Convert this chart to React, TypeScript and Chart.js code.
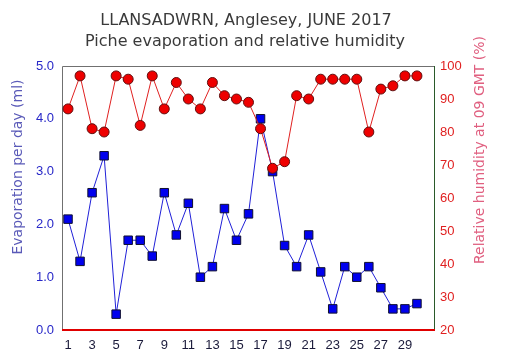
import React, { useEffect, useRef } from "react";
import { Chart, registerables } from "chart.js";

Chart.register(...registerables);

const days = [1,2,3,4,5,6,7,8,9,10,11,12,13,14,15,16,17,18,19,20,21,22,23,24,25,26,27,28,29,30];
const evaporation = [2.1,1.3,2.6,3.3,0.3,1.7,1.7,1.4,2.6,1.8,2.4,1.0,1.2,2.3,1.7,2.2,4.0,3.0,1.6,1.2,1.8,1.1,0.4,1.2,1.0,1.2,0.8,0.4,0.4,0.5];
const humidity = [87,97,81,80,97,96,82,97,87,95,90,87,95,91,90,89,81,69,71,91,90,96,96,96,96,80,93,94,97,97];
const xTicks = [1,3,5,7,9,11,13,15,17,19,21,23,25,27,29];
const titleLines = ["LLANSADWRN, Anglesey, JUNE 2017", "Piche evaporation and relative humidity"];
const leftTitle = "Evaporation per day (ml)";
const rightTitle = "Relative humidity at 09 GMT (%)";

export default function App() {
  const ref = useRef<HTMLCanvasElement | null>(null);
  useEffect(() => {
    const canvas = ref.current;
    if (!canvas) return;
    const decor = {
      id: "decor",
      beforeDatasetsDraw(chart: any) {
        const { ctx, chartArea: a } = chart;
        ctx.save();
        ctx.lineWidth = 1;
        ctx.strokeStyle = "#707070";
        ctx.beginPath();
        ctx.moveTo(a.left + 0.5, a.bottom);
        ctx.lineTo(a.left + 0.5, a.top + 0.5);
        ctx.lineTo(a.right, a.top + 0.5);
        ctx.stroke();
        ctx.strokeStyle = "#2a5a2a";
        ctx.beginPath();
        ctx.moveTo(a.right - 0.5, a.top);
        ctx.lineTo(a.right - 0.5, a.bottom);
        ctx.stroke();
        ctx.strokeStyle = "#e00000";
        ctx.lineWidth = 2;
        ctx.beginPath();
        ctx.moveTo(a.left, a.bottom);
        ctx.lineTo(a.right, a.bottom);
        ctx.stroke();
        ctx.restore();
      },
      afterDraw(chart: any) {
        const { ctx } = chart;
        ctx.save();
        ctx.fillStyle = "#3a3a3a";
        ctx.font = "16px 'DejaVu Sans'";
        ctx.textAlign = "center";
        ctx.textBaseline = "middle";
        ctx.fillText(titleLines[0], 246, 21);
        ctx.fillText(titleLines[1], 245, 42);
        ctx.font = "14px 'DejaVu Sans'";
        ctx.fillStyle = "#5a5ab8";
        ctx.translate(18, 167);
        ctx.rotate(-Math.PI / 2);
        ctx.fillText(leftTitle, 0, 0);
        ctx.restore();
        ctx.save();
        ctx.font = "14px 'DejaVu Sans'";
        ctx.fillStyle = "#e06080";
        ctx.textAlign = "center";
        ctx.textBaseline = "middle";
        ctx.translate(480, 150);
        ctx.rotate(-Math.PI / 2);
        ctx.fillText(rightTitle, 0, 0);
        ctx.restore();
      },
    };
    const chart = new Chart(canvas, {
      type: "line",
      data: {
        datasets: [
          {
            label: "Humidity",
            data: days.map((d, i) => ({ x: d, y: humidity[i] })),
            yAxisID: "y1",
            borderColor: "#e02020",
            borderWidth: 1,
            backgroundColor: "#ee0000",
            pointBackgroundColor: "#ee0000",
            pointBorderColor: "#601010",
            pointBorderWidth: 1,
            pointRadius: 5,
            pointStyle: "circle",
            tension: 0,
          },
          {
            label: "Evaporation",
            data: days.map((d, i) => ({ x: d, y: evaporation[i] })),
            yAxisID: "y",
            borderColor: "#2020d8",
            borderWidth: 1,
            backgroundColor: "#0000ee",
            pointBackgroundColor: "#0000ee",
            pointBorderColor: "#101030",
            pointBorderWidth: 1,
            pointRadius: 6,
            pointStyle: "rect",
            tension: 0,
          },
        ],
      },
      options: {
        animation: false,
        responsive: false,
        events: [],
        layout: { padding: { top: 66, left: 0, right: 0, bottom: 0 } },
        plugins: { legend: { display: false }, tooltip: { enabled: false }, title: { display: false } },
        scales: {
          x: {
            type: "linear",
            min: 0.5,
            max: 31.5,
            grid: { display: false, drawTicks: false },
            border: { display: false },
            afterBuildTicks: (s: any) => { s.ticks = xTicks.map((v) => ({ value: v })); },
            afterFit: (s: any) => { s.height = 30; },
            ticks: {
              color: "#1a1a3a",
              font: { family: "'Liberation Sans'", size: 13 },
              padding: 8,
              maxRotation: 0,
              autoSkip: false,
              callback: (v: any) => String(v),
            },
          },
          y: {
            position: "left",
            min: 0,
            max: 5,
            grid: { display: false, drawTicks: false },
            border: { display: false },
            afterFit: (s: any) => { s.width = 62; },
            ticks: {
              stepSize: 1,
              color: "#2828c8",
              font: { family: "'Liberation Sans'", size: 13 },
              padding: 8,
              callback: (v: any) => Number(v).toFixed(1),
            },
          },
          y1: {
            position: "right",
            min: 20,
            max: 100,
            grid: { display: false, drawTicks: false },
            border: { display: false },
            afterFit: (s: any) => { s.width = 71; },
            ticks: {
              stepSize: 10,
              color: "#e02020",
              font: { family: "'Liberation Sans'", size: 13 },
              padding: 5,
              callback: (v: any) => String(v),
            },
          },
        },
      },
      plugins: [decor],
    } as any);
    return () => chart.destroy();
  }, []);
  return (
    <div style={{ position: "fixed", left: 0, top: 0, width: 506, height: 360, background: "#fff" }}>
      <canvas ref={ref} width={506} height={360} style={{ display: "block" }} />
    </div>
  );
}
